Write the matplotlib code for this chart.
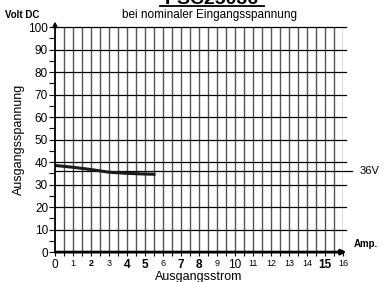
import matplotlib
matplotlib.use('Agg')
import matplotlib.pyplot as plt

plt.rcParams['font.family'] = ['Liberation Sans', 'DejaVu Sans']

# Ausgangsstrom (A) / Ausgangsspannung (V)
strom = [0, 1, 2, 3, 4, 5, 5.5]
spannung = [38.5, 37.7, 36.7, 35.5, 35.0, 34.7, 34.6]
nennspannung = 36
x_ticks = list(range(0, 17))
y_ticks = list(range(0, 101, 10))
bold_ticks = [2, 4, 5, 7, 8, 15]
big_ticks = [0, 4, 5, 7, 8, 10, 15]

fig = plt.figure(figsize=(3.88, 2.82), dpi=100)
ax = fig.add_axes([0.1418, 0.106, 0.742, 0.798])
ax.set_xlim(0, 16)
ax.set_ylim(0, 100)

# grid
for i in range(1, 33):
    ax.axvline(i * 0.5, color='#555555', lw=1.0, zorder=1)
for v in y_ticks[1:]:
    ax.plot([0, 16.15], [v, v], color='black', lw=0.9, clip_on=False, zorder=2)
ax.plot([0, 16.5], [nennspannung, nennspannung], color='black', lw=0.9,
        clip_on=False, zorder=2)
ax.text(16.9, nennspannung, '36V', fontsize=8, va='center')

ax.plot(strom, spannung, color='#1a1a1a', lw=2.2, zorder=3)

for s in ['top', 'right', 'left', 'bottom']:
    ax.spines[s].set_visible(False)

# axes with arrows
ax.annotate('', xy=(16.2, 0), xytext=(0, 0),
            arrowprops=dict(arrowstyle='-|>', lw=2, color='black',
                            mutation_scale=7, shrinkA=0, shrinkB=0),
            annotation_clip=False)
ax.annotate('', xy=(0, 102.5), xytext=(0, 0),
            arrowprops=dict(arrowstyle='-|>', lw=1.3, color='black',
                            mutation_scale=7, shrinkA=0, shrinkB=0),
            annotation_clip=False)

ax.set_yticks(y_ticks)
ax.set_yticks(range(5, 100, 10), minor=True)
ax.tick_params(axis='y', which='both', direction='out', length=4, width=0.8,
               labelsize=8.5, pad=1)
ax.set_xticks(x_ticks)
ax.set_xticks([i + 0.5 for i in range(16)], minor=True)
ax.tick_params(axis='x', which='both', direction='out', length=3, width=0.8, pad=2)
ax.set_xticklabels([str(t) for t in x_ticks])
for t, lab in zip(x_ticks, ax.get_xticklabels()):
    lab.set_fontsize(8.5 if t in big_ticks else 6.5)
    if t in bold_ticks:
        lab.set_fontweight('bold')

ax.set_xlabel('Ausgangsstrom', fontsize=9, labelpad=0)
ax.set_ylabel('Ausgangsspannung', fontsize=9, labelpad=2)

fig.text(0.012, 0.935, 'Volt DC', fontsize=7, fontweight='bold')
ax.text(16.6, 1.5, 'Amp.', fontsize=7, fontweight='bold', va='bottom')
fig.text(0.541, 0.948, 'bei nominaler Eingangsspannung', fontsize=8.5,
         ha='center', va='center')
fig.text(0.546, 0.986, 'PSC25036', fontsize=14, fontweight='bold', ha='center',
         va='baseline')
fig.add_artist(plt.Line2D([0.413, 0.68], [0.979, 0.979], color='black', lw=1.3))

fig.savefig('out.png', dpi=100)
